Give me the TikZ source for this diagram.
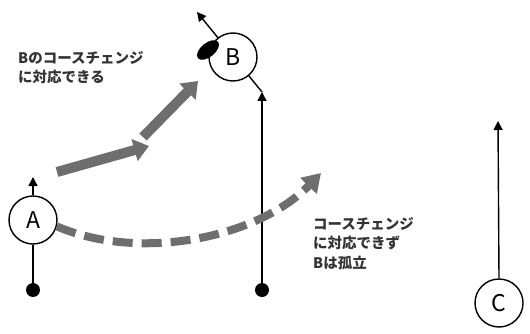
\documentclass[tikz,border=0pt]{standalone}
\usepackage{fontspec}
\setmainfont{Noto Sans CJK JP}
\usetikzlibrary{arrows.meta}
\definecolor{arrowgray}{HTML}{6E6E6E}
\tikzset{
  player/.style={circle, draw=black, fill=white, line width=1.4pt, minimum size=48pt, inner sep=0pt, font=\fontsize{23}{23}\selectfont},
  dotnode/.style={circle, fill=black, minimum size=14pt, inner sep=0pt},
  runline/.style={line width=1.4pt, -{Triangle[length=9pt,width=9pt]}},
  plainline/.style={line width=1.4pt},
  fatarrow/.style={draw=arrowgray, line width=10pt, -{Triangle[length=15pt,width=22pt]}},
  dasharrow/.style={draw=arrowgray, line width=8pt, dash pattern=on 20pt off 9pt, -{Triangle[length=18pt,width=22pt]}},
  label/.style={anchor=north west, align=left, inner sep=0pt, font=\fontsize{14.5}{19.5}\selectfont\bfseries, text=black!80}
}
\begin{document}
\begin{tikzpicture}[x=1pt,y=-1pt]
\useasboundingbox (0,0) rectangle (530,334);

% coordinates
\coordinate (Atip) at (33,177);
\coordinate (Bin) at (262,92);
\coordinate (Bdir) at (197,12);
\coordinate (Ctip) at (498,121);
\coordinate (g1s) at (57,172);
\coordinate (g1e) at (149,146);
\coordinate (g2s) at (143,137);
\coordinate (g2e) at (198,81);
\coordinate (dEnd) at (321,173);

% dots
\node[dotnode] (dA) at (33,290) {};
\node[dotnode] (dB) at (262,290) {};

% B runs
\draw[runline] (dB) -- (Bin);
\draw[runline] (Bin) -- (Bdir);

% players
\node[player] (A) at (33,220) {A};
\node[player] (B) at (233,57) {B};
\node[player] (C) at (499,303) {C};

\fill[black, rotate around={39:(208,50)}] (208,50) ellipse [x radius=13pt, y radius=7pt];

\draw[plainline] (A.south) -- (dA);
\draw[runline] (A.north) -- (Atip);
\draw[runline] (C.north) -- (Ctip);

% gray arrows
\draw[fatarrow] (g1s) -- (g1e);
\draw[fatarrow] (g2s) -- (g2e);
\draw[dasharrow] (A.-15) .. controls (140,262) and (258,238) .. (dEnd);

% labels
\node[label] (t1) at (18,51) {Bのコースチェンジ\\に対応できる};
\node[label] (t2) at (313,217) {コースチェンジ\\に対応できず\\Bは孤立};
\end{tikzpicture}
\end{document}
